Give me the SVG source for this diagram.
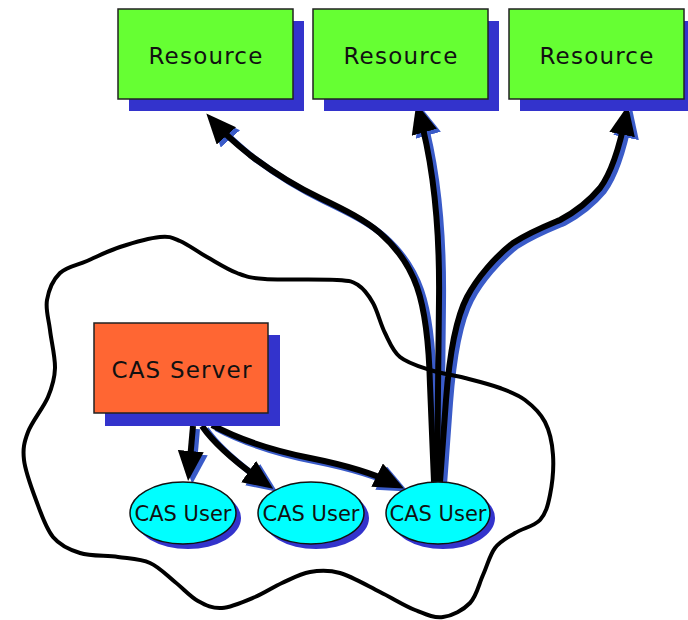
<svg xmlns="http://www.w3.org/2000/svg" width="688" height="620" viewBox="0 0 688 620">
<style>
.shadow{fill:#3333CC}
.box{stroke:#222;stroke-width:1.5}
.res{fill:#66FF33}
.srv{fill:#FF6633}
.usr{fill:#00FFFF;stroke:#111;stroke-width:1.5}
.lbl{font-family:"DejaVu Sans",Verdana,sans-serif;font-size:23px;letter-spacing:1.2px;fill:#111;text-anchor:middle}
.ulbl{font-family:"DejaVu Sans",Verdana,sans-serif;font-size:21px;fill:#111;text-anchor:middle}
.con{fill:none;stroke:#000;stroke-width:6;marker-end:url(#ah)}
.cons{fill:none;stroke:#3A5BC8;stroke-width:6;marker-end:url(#ahs)}
.cloud{fill:none;stroke:#000;stroke-width:4;stroke-linejoin:round}
</style>
<defs>
<marker id="ah" markerUnits="userSpaceOnUse" markerWidth="32" markerHeight="28" refX="20" refY="13" orient="auto" viewBox="0 0 32 28">
<path d="M0,0 L30,13 L0,26 z" fill="#000"/>
</marker>
<marker id="ahs" markerUnits="userSpaceOnUse" markerWidth="32" markerHeight="28" refX="20" refY="13" orient="auto" viewBox="0 0 32 28">
<path d="M0,0 L30,13 L0,26 z" fill="#3A5BC8"/>
</marker>
</defs>
<rect width="688" height="620" fill="#fff"/>
<g id="connectors">
<g transform="translate(4,3)">
<path class="cons" d="M434,482 L430,385 C429,345 425,310 417,287 C409,264 397,248 380,233 C365,220 345,210 320,198 C295,186 270,170 250,155 C235,143 222,131 213,121"/>
<path class="cons" d="M437,482 L439,300 C440,220 432,160 419,113"/>
<path class="cons" d="M440,482 L446,400 C449,360 455,320 467,297 C477,278 495,257 513,243 C530,232 548,225 560,220 C575,212 590,200 600,188 C612,172 620,145 626,115"/>
<path class="cons" d="M193,426 L189,471"/>
<path class="cons" d="M202,426 C215,445 235,462 265,483"/>
<path class="cons" d="M212,425 C240,440 270,450 310,458 C345,465 375,474 395,484"/>
</g>
<path class="con" d="M434,482 L430,385 C429,345 425,310 417,287 C409,264 397,248 380,233 C365,220 345,210 320,198 C295,186 270,170 250,155 C235,143 222,131 213,121"/>
<path class="con" d="M437,482 L439,300 C440,220 432,160 419,113"/>
<path class="con" d="M440,482 L446,400 C449,360 455,320 467,297 C477,278 495,257 513,243 C530,232 548,225 560,220 C575,212 590,200 600,188 C612,172 620,145 626,115"/>
<path class="con" d="M193,426 L189,471"/>
<path class="con" d="M202,426 C215,445 235,462 265,483"/>
<path class="con" d="M212,425 C240,440 270,450 310,458 C345,465 375,474 395,484"/>
</g>
<path id="cloud" class="cloud" d="M47,300 C48.7,290.5 53.3,279.5 60,273 C66.7,266.5 77,265.3 87,261 C97,256.7 107.8,251 120,247 C132.2,243 150,238 160,237 C170,236 172.2,237.7 180,241 C187.8,244.3 197.5,251.7 207,257 C216.5,262.3 227.3,269.3 237,273 C246.7,276.7 248.3,277.8 265,279 C281.7,280.2 321.5,279 337,280 C352.5,281 352,281.2 358,285 C364,288.8 368.5,295 373,303 C377.5,311 380.5,324 385,333 C389.5,342 392.5,350.8 400,357 C407.5,363.2 419.2,366.5 430,370 C440.8,373.5 453.3,375 465,378 C476.7,381 490,384.3 500,388 C510,391.7 517.5,394.3 525,400 C532.5,405.7 540.3,412.8 545,422 C549.7,431.2 552.2,442.8 553,455 C553.8,467.2 552.2,484.2 550,495 C547.8,505.8 545.8,513.7 540,520 C534.2,526.3 522.5,528.3 515,533 C507.5,537.7 500.3,541 495,548 C489.7,555 487.2,565.8 483,575 C478.8,584.2 476.7,596 470,603 C463.3,610 452.2,615.8 443,617 C433.8,618.2 425.5,614.2 415,610 C404.5,605.8 392.5,598.2 380,592 C367.5,585.8 351.7,576.3 340,573 C328.3,569.7 319.7,570.3 310,572 C300.3,573.7 291.2,578.8 282,583 C272.8,587.2 265,592.8 255,597 C245,601.2 231.5,607.3 222,608 C212.5,608.7 205.8,605.3 198,601 C190.2,596.7 183,588.3 175,582 C167,575.7 159.5,567.2 150,563 C140.5,558.8 129.7,558.7 118,557 C106.3,555.3 90.8,556.3 80,553 C69.2,549.7 60.3,545.8 53,537 C45.7,528.2 40.8,512.8 36,500 C31.2,487.2 25.3,471.3 24,460 C22.7,448.7 24,442.5 28,432 C32,421.5 43.5,407.7 48,397 C52.5,386.3 54.7,379.2 55,368 C55.3,356.8 51.3,341.3 50,330 C48.7,318.7 45.3,309.5 47,300 Z"/>
<g id="resource1">
<rect class="shadow" x="129" y="21" width="175" height="90"/>
<rect class="box res" x="118" y="9" width="175" height="90"/>
<text class="lbl" x="206" y="64">Resource</text>
</g>
<g id="resource2">
<rect class="shadow" x="324" y="21" width="175" height="90"/>
<rect class="box res" x="313" y="9" width="175" height="90"/>
<text class="lbl" x="401" y="64">Resource</text>
</g>
<g id="resource3">
<rect class="shadow" x="520" y="21" width="168" height="90"/>
<rect class="box res" x="509" y="9" width="175" height="90"/>
<text class="lbl" x="597" y="64">Resource</text>
</g>
<g id="cas-server">
<rect class="shadow" x="105" y="335" width="175" height="91"/>
<rect class="box srv" x="94" y="323" width="174" height="90"/>
<text class="lbl" x="182" y="378">CAS Server</text>
</g>
<g id="cas-user1">
<ellipse class="shadow" cx="188" cy="518" rx="53" ry="31"/>
<ellipse class="usr" cx="183" cy="513" rx="53" ry="31"/>
<text class="ulbl" x="183" y="521">CAS User</text>
</g>
<g id="cas-user2">
<ellipse class="shadow" cx="316" cy="518" rx="53" ry="31"/>
<ellipse class="usr" cx="311" cy="513" rx="53" ry="31"/>
<text class="ulbl" x="311" y="521">CAS User</text>
</g>
<g id="cas-user3">
<ellipse class="shadow" cx="443" cy="518" rx="52" ry="31"/>
<ellipse class="usr" cx="438" cy="513" rx="52" ry="31"/>
<text class="ulbl" x="438" y="521">CAS User</text>
</g>
</svg>
